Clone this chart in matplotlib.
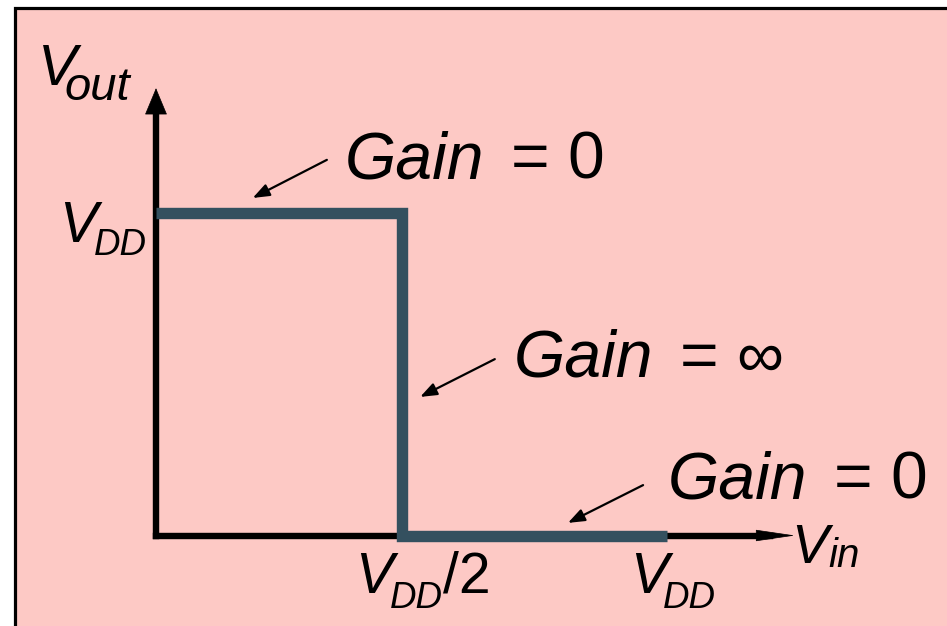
import matplotlib
matplotlib.use("Agg")
import matplotlib.pyplot as plt
from matplotlib.patches import Rectangle

# transfer curve of the ideal inverter (normalised to VDD)
vin = [0.0, 0.5, 0.5, 1.04]
vout = [1.0, 1.0, 0.0, 0.0]

gain_labels = ["= 0", "= \u221e", "= 0"]
# arrow tail / head points and label anchors, in units of VDD
gain_tail = [(0.348, 1.163), (0.690, 0.546), (0.992, 0.156)]
gain_head = [(0.197, 1.045), (0.538, 0.429), (0.839, 0.039)]
gain_text = [(0.385, 1.104), (0.729, 0.491), (1.043, 0.116)]

plt.rcParams['font.family'] = ['Liberation Sans', 'DejaVu Sans']

W, H = 947, 626
fig = plt.figure(figsize=(W / 100, H / 100), dpi=100, facecolor='white')

# pink slide background with black frame
bg = Rectangle((14.5 / W, -0.1), 1.2, 1.1 - 7.5 / H, transform=fig.transFigure,
               facecolor='#FDC9C5', edgecolor='black', lw=2.3, zorder=0)
fig.add_artist(bg)

x0, y0 = 156, 535.5
sx, sy = 491, 323
ax = fig.add_axes([x0 / W, (H - y0) / H, sx / W, sy / H], zorder=2)
ax.set_xlim(0, 1)
ax.set_ylim(0, 1)
ax.axis('off')
ax.patch.set_visible(False)

# axes with arrows
ax.plot([0, 0], [0, 1.33], color='black', lw=4.6, solid_capstyle='projecting', clip_on=False)
ax.annotate("", xy=(0, 1.385), xytext=(0, 1.30),
            arrowprops=dict(arrowstyle='-|>,head_length=1.8,head_width=0.75',
                            lw=0.5, color='black', shrinkA=0, shrinkB=0),
            annotation_clip=False)
ax.plot([0, 1.25], [0, 0], color='black', lw=4.6, solid_capstyle='projecting', clip_on=False)
ax.annotate("", xy=(1.301, 0), xytext=(1.2, 0),
            arrowprops=dict(arrowstyle='-|>,head_length=2.6,head_width=0.38',
                            lw=0.5, color='black', shrinkA=0, shrinkB=0),
            annotation_clip=False)

# transfer curve
ax.plot(vin, vout, color='#34505F', lw=8.2, solid_joinstyle='miter',
        solid_capstyle='butt', clip_on=False, zorder=3)

# gain annotations
for lab, t, h, p in zip(gain_labels, gain_tail, gain_head, gain_text):
    ax.annotate("", xy=h, xytext=t,
                arrowprops=dict(arrowstyle='-|>,head_length=1.0,head_width=0.38',
                                lw=1.6, color='black', shrinkA=0, shrinkB=0),
                annotation_clip=False)
    ax.text(p[0], p[1], "Gain", fontsize=47.5, style='italic',
            ha='left', va='baseline', clip_on=False)
    ax.text(p[0] + 0.338, p[1], lab, fontsize=47.5,
            ha='left', va='baseline', clip_on=False)

# axis labels
def vlabel(x, y, sub, xs, ys, size, subsize):
    ax.text(x, y, "V", fontsize=size, style='italic', ha='left', va='baseline')
    ax.text(xs, ys, sub, fontsize=subsize, style='italic', ha='left', va='baseline')

vlabel(-0.240, 1.395, "out", -0.187, 1.347, 42, 34)
vlabel(-0.197, 0.909, "DD", -0.126, 0.869, 41, 26.5)
vlabel(0.405, -0.178, "DD", 0.477, -0.224, 41, 26.5)
ax.text(0.584, -0.178, "/2", fontsize=41, ha='left', va='baseline')
vlabel(0.965, -0.178, "DD", 1.033, -0.224, 41, 26.5)
vlabel(1.293, -0.085, "in", 1.369, -0.098, 40, 29)

fig.savefig("out.png", dpi=100)
